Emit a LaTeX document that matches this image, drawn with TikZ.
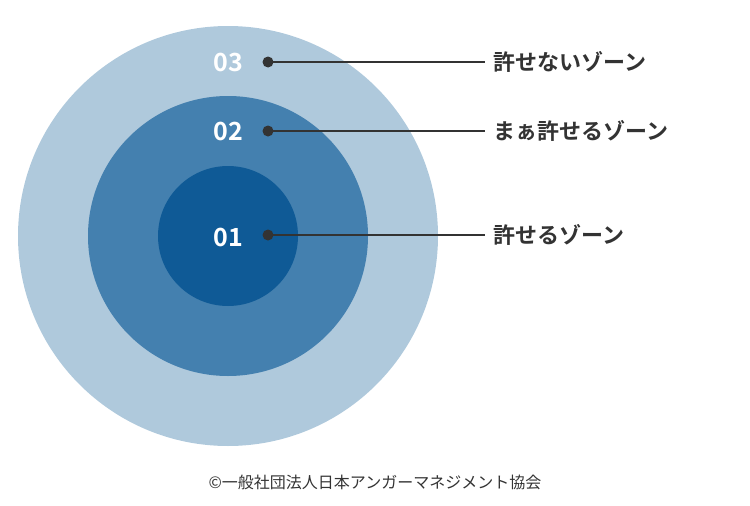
\documentclass[tikz,border=0pt]{standalone}
\usepackage{fontspec}
\newfontfamily\cjk{Noto Sans CJK JP}
\newfontfamily\cjkb{Noto Sans CJK JP Bold}
\definecolor{outerc}{HTML}{AFC9DC}
\definecolor{midc}{HTML}{4480AF}
\definecolor{innerc}{HTML}{0F5A96}
\definecolor{txt}{HTML}{333333}
\begin{document}
\begin{tikzpicture}[x=1pt,y=-1pt,
  num/.style={text=white,font=\cjkb\fontsize{25}{25}\selectfont,inner sep=0},
  lab/.style={text=txt,font=\cjkb\fontsize{22}{22}\selectfont,anchor=west,inner sep=0},
  dotc/.style={circle,fill=txt,minimum size=11,inner sep=0},
  conn/.style={draw=txt,line width=1.3pt}]
\useasboundingbox (0,0) rectangle (750,506);
\fill[outerc] (228,236) circle (210);
\fill[midc] (228,236) circle (140);
\fill[innerc] (228,236) circle (70);
\node[num] (n3) at (228,62) {03};
\node[num] (n2) at (228,131) {02};
\node[num] (n1) at (228,237) {01};
\node[dotc] (d3) at (268,62) {};
\node[dotc] (d2) at (268,131) {};
\node[dotc] (d1) at (268,235) {};
\node[lab] (l3) at (493,62) {許せないゾーン};
\node[lab] (l2) at (493,131) {まぁ許せるゾーン};
\node[lab] (l1) at (493,235) {許せるゾーン};
\coordinate (e3) at (485,62);
\coordinate (e2) at (485,131);
\coordinate (e1) at (485,235);
\draw[conn] (d3.center) -- (e3);
\draw[conn] (d2.center) -- (e2);
\draw[conn] (d1.center) -- (e1);
\node[text=txt,font=\cjk\fontsize{16}{16}\selectfont,inner sep=0] (f) at (375,482) {©一般社団法人日本アンガーマネジメント協会};
\end{tikzpicture}
\end{document}
